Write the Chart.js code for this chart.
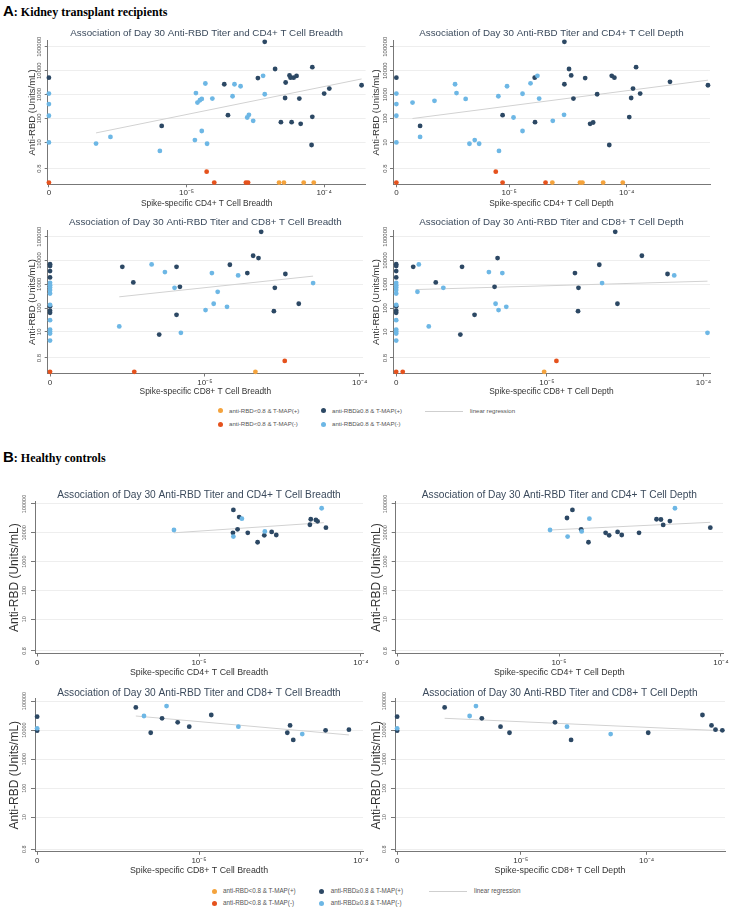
<!DOCTYPE html>
<html>
<head>
<meta charset="utf-8">
<script src="https://cdn.jsdelivr.net/npm/chart.js@4"></script>
<style>
  body { margin: 0; background: #fff; }
  #page { position: relative; width: 735px; height: 920px; overflow: hidden; font-family: Arial, "Liberation Sans", sans-serif; }
  .head { position: absolute; left: 3px; white-space: nowrap; }
  .head b { font: bold 15px Arial, "Liberation Sans", sans-serif; }
  .head span { font: bold 12px "Times New Roman", "Liberation Serif", serif; }
  .lg { position: absolute; font-size: 6.1px; color: #555; white-space: nowrap; line-height: 8px; }
  .dot { position: absolute; width: 5px; height: 5px; border-radius: 50%; }
  .ln { position: absolute; height: 1px; background: #cfcfcf; }
</style>
</head>
<body>
<div id="page">
  <div class="head" style="top:2px"><b>A</b><span>: Kidney transplant recipients</span></div>
  <div class="head" style="top:448px"><b>B</b><span>: Healthy controls</span></div>
</div>
<script>
// colours of the four groups
const ORANGE = '#f4a33d', RED = '#e5521d', DARK = '#2c4864', LIGHT = '#6db7e5';

const yTickValues = [0.8, 10, 100, 1000, 10000, 100000];
const yTickLabels = ['0.8', '10', '100', '1000', '10000', '100000'];
const xTickLabels = ['0', '10\u207B\u2075', '10\u207B\u2074'];

// A: kidney transplant recipients, CD4 breadth  [x, y]
const ktCd4BrDark = [[0,5100],[6.6e-6,49],[1.88e-5,2700],[2.0e-5,138],[3.3e-5,4900],[3.7e-5,160000],[4.4e-5,11700],[5.25e-5,3200],[5.6e-5,6300],[5.7e-5,5100],[6.0e-5,5100],[6.3e-5,6000],[5.2e-5,720],[6.6e-5,680],[4.85e-5,70],[5.8e-5,70],[6.75e-5,60],[8.2e-5,14000],[8.2e-5,117],[8.1e-5,7.8],[1.0e-4,1100],[1.09e-4,1780],[1.87e-4,2450]];
const ktCd4BrLight = [[0,1100],[0,400],[0,130],[0,10],[2.2e-6,9],[2.8e-6,17],[6.4e-6,4.4],[1.15e-5,12.5],[1.41e-5,8.8],[1.29e-5,30],[1.37e-5,2900],[1.17e-5,1150],[1.2e-5,465],[1.25e-5,580],[1.29e-5,660],[1.54e-5,680],[2.23e-5,2700],[2.47e-5,2230],[2.16e-5,850],[2.76e-5,110],[2.84e-5,142],[3.05e-5,80],[3.6e-5,6100],[3.7e-5,1030]];
const ktCd4BrRed = [[0,0.21],[1.4e-5,0.6],[1.59e-5,0.21],[2.7e-5,0.21],[2.8e-5,0.21]];
const ktCd4BrOrange = [[4.7e-5,0.21],[5.1e-5,0.21],[7.1e-5,0.21],[8.4e-5,0.21]];
const ktCd4BrFit = [[2.2e-6,25],[1.87e-4,4500]];

// A: CD4 depth
const ktCd4DpDark = [[0,5100],[1.75e-6,49],[8.8e-6,138],[1.65e-5,5100],[1.66e-5,70],[2.95e-5,160000],[2.95e-5,2700],[3.23e-5,11700],[3.37e-5,6300],[3.52e-5,680],[4.43e-5,4900],[4.88e-5,60],[5.18e-5,68],[5.6e-5,1030],[7.45e-5,6100],[7.85e-5,5100],[7.1e-5,7.8],[1.05e-4,115],[1.09e-4,720],[1.13e-4,1780],[1.2e-4,14000],[1.3e-4,1100],[2.33e-4,3400],[4.9e-4,2450]];
const ktCd4DpLight = [[0,1100],[0,400],[0,130],[0,10],[1.51e-6,465],[1.75e-6,17],[2.32e-6,550],[3.47e-6,2700],[3.57e-6,1150],[4.27e-6,660],[4.6e-6,8.8],[5.1e-6,12.5],[5.56e-6,8.8],[8.1e-6,850],[8.2e-6,4.4],[9.6e-6,2230],[1.09e-5,110],[1.3e-5,1080],[1.3e-5,30],[1.52e-5,2950],[1.74e-5,6100],[1.8e-5,680],[2.35e-5,80],[2.93e-5,142]];
const ktCd4DpRed = [[0,0.21],[7.7e-6,0.6],[8.8e-6,0.21],[2.04e-5,0.21]];
const ktCd4DpOrange = [[2.33e-5,0.21],[4.0e-5,0.21],[4.2e-5,0.21],[6.3e-5,0.21],[9.25e-5,0.21]];
const ktCd4DpFit = [[1.51e-6,100],[4.9e-4,4000]];

// A: CD8 breadth
const ktCd8BrDark = [[0,7000],[0,5800],[0,3570],[0,1930],[0,120],[0,77],[0,63],[2.93e-6,5430],[3.45e-6,1190],[5.07e-6,7.7],[6.56e-6,5430],[6.56e-6,52],[6.9e-6,780],[1.45e-5,6600],[1.88e-5,2960],[2.05e-5,15800],[2.22e-5,12600],[2.31e-5,160000],[2.79e-5,74],[2.83e-5,710],[3.31e-5,2700],[4.04e-5,152]];
const ktCd8BrLight = [[0,1150],[0,920],[0,730],[0,570],[0,410],[0,137],[0,31],[0,12.5],[0,10.3],[0,8.5],[0,4.3],[2.8e-6,17],[4.53e-6,6800],[5.52e-6,3240],[6.37e-6,710],[7.0e-6,9.1],[1.01e-5,82],[1.11e-5,2960],[1.14e-5,152],[1.21e-5,480],[1.39e-5,113],[1.64e-5,2350],[5.0e-5,1120]];
const ktCd8BrRed = [[0,0.21],[3.5e-6,0.21],[3.28e-5,0.6]];
const ktCd8BrOrange = [[2.12e-5,0.21]];
const ktCd8BrFit = [[2.8e-6,297],[5.0e-5,2200]];

// A: CD8 depth
const ktCd8DpDark = [[0,7000],[0,5800],[0,3570],[0,1930],[0,120],[0,77],[0,63],[1.4e-6,5430],[1.95e-6,1190],[2.8e-6,7.7],[2.87e-6,5430],[3.45e-6,52],[4.63e-6,780],[4.84e-6,12600],[1.51e-5,2960],[1.59e-5,710],[1.58e-5,74],[2.16e-5,6600],[2.73e-5,160000],[2.82e-5,152],[4.04e-5,15800],[5.89e-5,2700]];
const ktCd8DpLight = [[0,1150],[0,920],[0,730],[0,570],[0,410],[0,137],[0,31],[0,12.5],[0,10.3],[0,8.5],[0,4.3],[1.52e-6,6800],[1.49e-6,480],[1.76e-6,17],[2.18e-6,710],[4.26e-6,3240],[4.7e-6,152],[4.91e-6,82],[5.19e-6,2960],[5.5e-6,113],[2.25e-5,1120],[6.5e-5,2350],[1.06e-4,9.1]];
const ktCd8DpRed = [[0,0.21],[1.2e-6,0.21],[1.15e-5,0.6]];
const ktCd8DpOrange = [[9.6e-6,0.21]];
const ktCd8DpFit = [[1.45e-6,600],[1.06e-4,1350]];

// B: healthy controls
const hcCd4BrDark = [[1.63e-5,62000],[1.62e-5,10000],[1.73e-5,13200],[1.77e-5,35000],[2.0e-5,10000],[2.3e-5,4700],[2.53e-5,8200],[2.81e-5,10700],[3.0e-5,8400],[4.84e-5,19000],[4.9e-5,29500],[5.27e-5,27900],[5.4e-5,25000],[6.08e-5,15100]];
const hcCd4BrLight = [[7.0e-6,12500],[1.63e-5,7400],[1.84e-5,31000],[2.55e-5,11200],[5.72e-5,71000]];
const hcCd4BrFit = [[7.0e-6,10000],[5.9e-5,22500]];

const hcCd4DpDark = [[1.12e-5,32700],[1.21e-5,62000],[1.37e-5,13200],[1.52e-5,4700],[1.94e-5,10000],[2.04e-5,8200],[2.3e-5,10700],[2.44e-5,8400],[3.12e-5,10000],[4.0e-5,29500],[4.26e-5,29000],[4.4e-5,18800],[4.84e-5,25500],[8.6e-5,15100]];
const hcCd4DpLight = [[8.8e-6,12500],[1.13e-5,7400],[1.38e-5,11200],[1.54e-5,31000],[5.2e-5,71000]];
const hcCd4DpFit = [[8.8e-6,12500],[8.6e-5,23100]];

const hcCd8BrDark = [[0,29000],[0,9500],[4.07e-6,60000],[5.03e-6,8100],[5.91e-6,25400],[7.38e-6,18500],[8.7e-6,13100],[1.19e-5,33000],[3.51e-5,8100],[3.65e-5,14500],[3.82e-5,4600],[6.05e-5,9800],[8.43e-5,10300]];
const hcCd8BrLight = [[0,11500],[4.57e-6,30500],[6.3e-6,67000],[1.75e-5,13100],[4.34e-5,7300]];
const hcCd8BrFit = [[4.07e-6,30500],[8.43e-5,6800]];

const hcCd8DpDark = [[0,29000],[0,9500],[2.48e-6,60000],[4.9e-6,25400],[6.9e-6,13100],[8.13e-6,8100],[1.87e-5,18500],[2.51e-5,4600],[1.03e-4,8100],[2.78e-4,33000],[3.28e-4,14500],[3.53e-4,10300],[4.0e-4,9800]];
const hcCd8DpLight = [[0,11500],[3.92e-6,30500],[4.4e-6,67000],[2.33e-5,13100],[5.18e-5,7300]];
const hcCd8DpFit = [[2.48e-6,25400],[4.0e-4,9500]];

const legendLabels = ['anti-RBD<0.8 & T-MAP(+)', 'anti-RBD\u22650.8 & T-MAP(+)', 'linear regression', 'anti-RBD<0.8 & T-MAP(-)', 'anti-RBD\u22650.8 & T-MAP(-)'];

const FONT = 'Arial, "Liberation Sans", sans-serif';
const page = document.getElementById('page');

// y tick labels are drawn rotated, as in the original
const rotatedYTicks = {
  id: 'rotatedYTicks',
  afterDraw(chart, args, opts) {
    const s = chart.scales.y, ctx = chart.ctx;
    ctx.save();
    ctx.fillStyle = '#555';
    ctx.font = opts.size + 'px ' + FONT;
    ctx.textAlign = 'center';
    ctx.textBaseline = 'bottom';
    s.ticks.forEach((t, i) => {
      ctx.save();
      ctx.translate(chart.chartArea.left - opts.gap, s.getPixelForValue(t.value));
      ctx.rotate(-Math.PI / 2);
      ctx.fillText(yTickLabels[i], 0, 0);
      ctx.restore();
    });
    ctx.restore();
  }
};

function panel(c) {
  const { box, area } = c;
  const cv = document.createElement('canvas');
  cv.width = box.w; cv.height = box.h;
  cv.style.cssText = `position:absolute;left:${box.x}px;top:${box.y}px`;
  page.appendChild(cv);

  const pts = arr => arr.map(p => ({ x: p[0] === 0 ? c.zero : p[0], y: p[1] }));
  const group = (arr, color) => ({ data: pts(arr || []), backgroundColor: color, pointRadius: 2.4, pointHoverRadius: 2.4, borderWidth: 0, clip: false, order: 0 });

  const tPadTop = c.titleY - box.y - c.titleSize / 2;
  const tPadBot = area.t - box.y - tPadTop - c.titleSize;

  new Chart(cv, {
    type: 'scatter',
    data: {
      datasets: [
        { type: 'line', data: pts(c.fit), borderColor: '#d2d2d2', borderWidth: 1, pointRadius: 0, fill: false, order: 1 },
        group(c.light, LIGHT), group(c.dark, DARK), group(c.red, RED), group(c.orange, ORANGE)
      ]
    },
    options: {
      responsive: false, animation: false, events: [],
      layout: { padding: { left: 0, top: 0, bottom: 0, right: box.x + box.w - area.r } },
      plugins: {
        legend: { display: false }, tooltip: { enabled: false },
        title: { display: true, fullSize: false, text: c.title, color: '#3b4a5c', font: { family: FONT, size: c.titleSize, weight: 'normal', lineHeight: 1 }, padding: { top: tPadTop, bottom: tPadBot } },
        rotatedYTicks: { size: c.yTickSize, gap: c.yGap }
      },
      scales: {
        x: {
          type: 'logarithmic', min: c.xmin, max: c.xmax,
          afterBuildTicks: s => { s.ticks = [c.zero, 1e-5, 1e-4].map(v => ({ value: v })); },
          afterFit: s => { s.height = box.y + box.h - area.b; s.paddingLeft = 0; s.paddingRight = 0; },
          ticks: { autoSkip: false, minRotation: 0, maxRotation: 0, padding: 1, color: '#333', font: { family: FONT, size: 8 }, callback: (v, i) => xTickLabels[i] },
          grid: { drawOnChartArea: false, tickColor: '#777', tickLength: 3 },
          border: { color: '#777', width: 1 },
          title: { display: true, text: c.xTitle, color: '#333', font: { family: FONT, size: c.xTitleSize, lineHeight: 1 }, padding: { top: 0, bottom: box.y + box.h - c.xTitleY - c.xTitleSize / 2 } }
        },
        y: {
          type: 'logarithmic', min: c.ymin, max: c.ymax,
          afterBuildTicks: s => { s.ticks = yTickValues.map(v => ({ value: v })); },
          afterFit: s => { s.width = area.l - box.x; s.paddingTop = 0; s.paddingBottom = 0; },
          ticks: { display: false, autoSkip: false },
          grid: { color: '#eeeeee', tickColor: '#777', tickLength: c.yTickLen },
          border: { color: '#777', width: 1 },
          title: { display: true, text: 'Anti-RBD (Units/mL)', color: '#333', font: { family: FONT, size: c.yTitleSize, lineHeight: 1 }, padding: { top: c.yTitleX - box.x - c.yTitleSize / 2, bottom: 0 } }
        }
      }
    },
    plugins: [rotatedYTicks]
  });
}

function legend(top, gap, size, xs) {
  const items = [
    [xs[0], 0, ORANGE, 0], [xs[1], 0, DARK, 1], [xs[2], 0, null, 2],
    [xs[0], gap, RED, 3], [xs[1], gap, LIGHT, 4]
  ];
  for (const [x, dy, color, k] of items) {
    if (color) {
      const d = document.createElement('div');
      d.className = 'dot';
      d.style.cssText = `left:${x - 2.5}px;top:${top + dy - 2.5}px;background:${color}`;
      page.appendChild(d);
    } else {
      const l = document.createElement('div');
      l.className = 'ln';
      l.style.cssText = `left:${x - 38}px;top:${top + dy}px;width:38px`;
      page.appendChild(l);
    }
    const t = document.createElement('div');
    t.className = 'lg';
    t.textContent = legendLabels[k];
    t.style.cssText = `left:${x + (color ? 9 : 7)}px;top:${top + dy - 4}px;font-size:${size}px`;
    page.appendChild(t);
  }
}

const A = { titleSize: 9.8, xTitleSize: 8.4, yTitleSize: 9.5, yTickSize: 6, yGap: 5, yTickLen: 3, ymin: 0.178, ymax: 1.8e5 };
const B = { titleSize: 10.2, xTitleSize: 8.8, yTitleSize: 12, yTickSize: 5.5, yGap: 7.5, yTickLen: 4, ymin: 0.65, ymax: 1.2e5 };

panel({ ...A, box: { x: 0, y: 18, w: 368, h: 194 }, area: { l: 47.7, t: 40.6, r: 366, b: 184.3 }, titleY: 33, yTitleX: 32, xTitleY: 204,
  title: 'Association of Day 30 Anti-RBD Titer and CD4+ T Cell Breadth', xTitle: 'Spike-specific CD4+ T Cell Breadth',
  xmin: 0.98e-6, xmax: 2.0e-4, zero: 1.0e-6, dark: ktCd4BrDark, light: ktCd4BrLight, red: ktCd4BrRed, orange: ktCd4BrOrange, fit: ktCd4BrFit });
panel({ ...A, box: { x: 368, y: 18, w: 367, h: 194 }, area: { l: 393, t: 40.6, r: 710, b: 184.3 }, titleY: 33, yTitleX: 376.7, xTitleY: 204,
  title: 'Association of Day 30 Anti-RBD Titer and CD4+ T Cell Depth', xTitle: 'Spike-specific CD4+ T Cell Depth',
  xmin: 1.03e-6, xmax: 5.1e-4, zero: 1.1e-6, dark: ktCd4DpDark, light: ktCd4DpLight, red: ktCd4DpRed, orange: ktCd4DpOrange, fit: ktCd4DpFit });
panel({ ...A, box: { x: 0, y: 212, w: 368, h: 192 }, area: { l: 47.7, t: 230.6, r: 363, b: 373.5 }, titleY: 222, yTitleX: 32, xTitleY: 392,
  title: 'Association of Day 30 Anti-RBD Titer and CD8+ T Cell Breadth', xTitle: 'Spike-specific CD8+ T Cell Breadth',
  xmin: 0.966e-6, xmax: 1.05e-4, zero: 1.0e-6, dark: ktCd8BrDark, light: ktCd8BrLight, red: ktCd8BrRed, orange: ktCd8BrOrange, fit: ktCd8BrFit });
panel({ ...A, box: { x: 368, y: 212, w: 367, h: 192 }, area: { l: 393, t: 230.6, r: 710, b: 373.5 }, titleY: 222, yTitleX: 376.7, xTitleY: 392,
  title: 'Association of Day 30 Anti-RBD Titer and CD8+ T Cell Depth', xTitle: 'Spike-specific CD8+ T Cell Depth',
  xmin: 1.04e-6, xmax: 1.1e-4, zero: 1.09e-6, dark: ktCd8DpDark, light: ktCd8DpLight, red: ktCd8DpRed, orange: ktCd8DpOrange, fit: ktCd8DpFit });

panel({ ...B, box: { x: 0, y: 484, w: 368, h: 200 }, area: { l: 35, t: 501.7, r: 363, b: 653.5 }, titleY: 495, yTitleX: 15, xTitleY: 672.7,
  title: 'Association of Day 30 Anti-RBD Titer and CD4+ T Cell Breadth', xTitle: 'Spike-specific CD4+ T Cell Breadth',
  xmin: 0.97e-6, xmax: 1.03e-4, zero: 1.0e-6, dark: hcCd4BrDark, light: hcCd4BrLight, fit: hcCd4BrFit });
panel({ ...B, box: { x: 368, y: 484, w: 367, h: 200 }, area: { l: 395.7, t: 501.7, r: 723, b: 653.5 }, titleY: 495, yTitleX: 376.7, xTitleY: 672.7,
  title: 'Association of Day 30 Anti-RBD Titer and CD4+ T Cell Depth', xTitle: 'Spike-specific CD4+ T Cell Depth',
  xmin: 0.98e-6, xmax: 1.03e-4, zero: 1.0e-6, dark: hcCd4DpDark, light: hcCd4DpLight, fit: hcCd4DpFit });
panel({ ...B, box: { x: 0, y: 684, w: 368, h: 198 }, area: { l: 35, t: 698.7, r: 363, b: 851.8 }, titleY: 692.7, yTitleX: 15, xTitleY: 871,
  title: 'Association of Day 30 Anti-RBD Titer and CD8+ T Cell Breadth', xTitle: 'Spike-specific CD8+ T Cell Breadth',
  xmin: 0.97e-6, xmax: 1.03e-4, zero: 1.0e-6, dark: hcCd8BrDark, light: hcCd8BrLight, fit: hcCd8BrFit });
panel({ ...B, box: { x: 368, y: 684, w: 367, h: 198 }, area: { l: 395, t: 698.7, r: 725, b: 851.8 }, titleY: 692.7, yTitleX: 376.7, xTitleY: 871,
  title: 'Association of Day 30 Anti-RBD Titer and CD8+ T Cell Depth', xTitle: 'Spike-specific CD8+ T Cell Depth',
  xmin: 1.0e-6, xmax: 4.2e-4, zero: 1.04e-6, dark: hcCd8DpDark, light: hcCd8DpLight, fit: hcCd8DpFit });

legend(410.7, 13.5, 6.1, [220, 323, 463]);
legend(891, 12.3, 6.3, [214, 321.7, 467]);
</script>
</body>
</html>
